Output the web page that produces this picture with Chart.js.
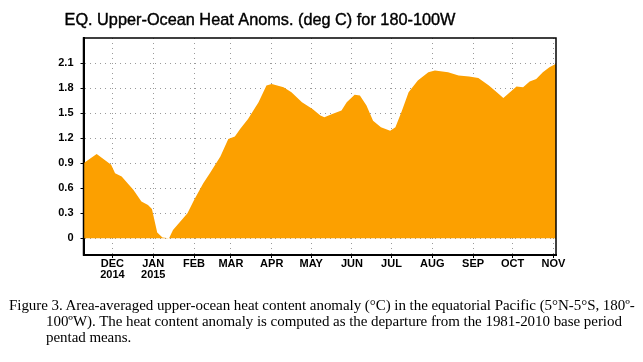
<!DOCTYPE html>
<html>
<head>
<meta charset="utf-8">
<script src="https://cdn.jsdelivr.net/npm/chart.js@4.4.1/dist/chart.umd.min.js"></script>
<style>
  html, body { margin: 0; padding: 0; background: #fff; }
  #wrap { position: relative; width: 643px; height: 362px; }
  #caption {
    position: absolute; left: 9px; top: 297px;
    font-family: "Liberation Serif", "Times New Roman", serif;
    font-size: 15px; line-height: 16px; color: #000;
    white-space: nowrap; letter-spacing: -0.05px;
  }
  #caption .ind { padding-left: 37px; }
</style>
</head>
<body>
<div id="wrap">
  <canvas id="heatChart" width="643" height="362"></canvas>
  <div id="caption">
    Figure 3. Area-averaged upper-ocean heat content anomaly (°C) in the equatorial Pacific (5°N-5°S, 180º-<br>
    <span class="ind">100ºW). The heat content anomaly is computed as the departure from the 1981-2010 base period</span><br>
    <span class="ind">pentad means.</span>
  </div>
</div>
<script>
// values (approximate pentad-ish samples)
const dates = [
  '2014-11-09', '2014-11-19', '2014-11-30', '2014-12-03', '2014-12-08', '2014-12-17',
  '2014-12-23', '2014-12-28', '2014-12-31', '2015-01-04', '2015-01-08', '2015-01-13',
  '2015-01-16', '2015-01-27', '2015-02-01', '2015-02-08', '2015-02-13', '2015-02-21',
  '2015-02-27', '2015-03-04', '2015-03-08', '2015-03-14', '2015-03-22', '2015-03-28',
  '2015-04-01', '2015-04-10', '2015-04-16', '2015-04-24', '2015-05-02', '2015-05-08',
  '2015-05-11', '2015-05-17', '2015-05-24', '2015-05-28', '2015-06-03', '2015-06-07',
  '2015-06-12', '2015-06-17', '2015-06-23', '2015-06-30', '2015-07-04', '2015-07-09',
  '2015-07-14', '2015-07-21', '2015-07-29', '2015-08-03', '2015-08-13', '2015-08-21',
  '2015-08-29', '2015-09-05', '2015-09-13', '2015-09-19', '2015-09-24', '2015-09-29',
  '2015-10-04', '2015-10-09', '2015-10-14', '2015-10-19', '2015-10-24', '2015-10-29',
  '2015-11-03'
];
const anomaly = [
  0.90, 1.01, 0.88, 0.78, 0.74, 0.58,
  0.44, 0.40, 0.35, 0.07, 0.01, 0.00,
  0.10, 0.30, 0.46, 0.66, 0.78, 0.98,
  1.19, 1.22, 1.31, 1.43, 1.63, 1.83,
  1.85, 1.81, 1.75, 1.63, 1.55, 1.47,
  1.45, 1.49, 1.53, 1.63, 1.72, 1.71,
  1.59, 1.41, 1.33, 1.29, 1.33, 1.53,
  1.75, 1.89, 1.99, 2.01, 1.99, 1.95,
  1.94, 1.92, 1.83, 1.75, 1.68, 1.75,
  1.82, 1.81, 1.88, 1.91, 1.99, 2.05,
  2.09
];

const monthStarts = ['2014-12-01', '2015-01-01', '2015-02-01', '2015-03-01', '2015-04-01', '2015-05-01',
  '2015-06-01', '2015-07-01', '2015-08-01', '2015-09-01', '2015-10-01', '2015-11-01'];
const monthLabels = [['DEC', '2014'], ['JAN', '2015'], 'FEB', 'MAR', 'APR', 'MAY',
  'JUN', 'JUL', 'AUG', 'SEP', 'OCT', 'NOV'];
const yTicks = [0, 0.3, 0.6, 0.9, 1.2, 1.5, 1.8, 2.1];

const titleText = 'EQ. Upper-Ocean Heat Anoms. (deg C) for 180-100W';

// days since 1 Dec 2014
const base = Date.UTC(2014, 11, 1);
function dayOf(s) {
  const [y, m, d] = s.split('-').map(Number);
  return (Date.UTC(y, m - 1, d) - base) / 86400000;
}

const points = dates.map((d, i) => ({ x: dayOf(d), y: anomaly[i] }));
const monthDays = monthStarts.map(dayOf);

const tickFont = { family: '"Liberation Sans", Arial, sans-serif', size: 11, weight: 'bold', lineHeight: 1.05 };

const frameAndTitle = {
  id: 'frameAndTitle',
  afterDraw(chart) {
    const { ctx, chartArea: a } = chart;
    ctx.save();
    ctx.strokeStyle = '#000';
    ctx.lineWidth = 1.5;
    ctx.strokeRect(a.left, a.top, a.right - a.left, a.bottom - a.top);
    // title (GrADS style, slightly heavy)
    ctx.fillStyle = '#000';
    ctx.strokeStyle = '#000';
    ctx.lineWidth = 0.4;
    ctx.font = '16.3px "Liberation Sans", Arial, sans-serif';
    ctx.textAlign = 'center';
    ctx.textBaseline = 'middle';
    ctx.fillText(titleText, 260, 21);
    ctx.strokeText(titleText, 260, 21);
    ctx.restore();
  }
};

const canvas = document.getElementById('heatChart');
new Chart(canvas, {
  type: 'line',
  data: {
    datasets: [{
      data: points,
      fill: 'origin',
      backgroundColor: '#fca000',
      borderColor: '#fca000',
      borderWidth: 0,
      pointRadius: 0,
      tension: 0
    }]
  },
  options: {
    animation: false,
    responsive: false,
    events: [],
    layout: { padding: { left: 0, right: 87, top: 38, bottom: 77 } },
    plugins: {
      legend: { display: false },
      tooltip: { enabled: false },
      title: { display: false }
    },
    scales: {
      x: {
        type: 'linear',
        z: 1,
        min: dayOf(dates[0]),
        max: dayOf(dates[dates.length - 1]),
        afterBuildTicks(scale) {
          scale.ticks = monthDays.map(v => ({ value: v }));
        },
        afterFit(scale) { scale.height = 30; },
        ticks: {
          autoSkip: false,
          maxRotation: 0,
          padding: 0,
          color: '#000',
          font: tickFont,
          callback: (v) => {
            const i = monthDays.indexOf(v);
            return i >= 0 ? monthLabels[i] : '';
          }
        },
        grid: { color: '#9a9a9a', lineWidth: 1, tickLength: 3, tickColor: '#000', drawOnChartArea: true },
        border: { display: true, color: '#000', width: 2, dash: [1, 4] }
      },
      y: {
        z: 1,
        min: -0.2,
        max: 2.4,
        afterBuildTicks(scale) {
          scale.ticks = yTicks.map(v => ({ value: v }));
        },
        afterFit(scale) { scale.width = 83.5; },
        ticks: {
          padding: 7,
          color: '#000',
          font: tickFont,
          callback: (v) => (v === 0 ? '0' : v.toFixed(1))
        },
        grid: { color: '#9a9a9a', lineWidth: 1, tickLength: 3, tickColor: '#000' },
        border: { display: true, color: '#000', width: 2, dash: [1, 4] }
      }
    }
  },
  plugins: [frameAndTitle]
});
</script>
</body>
</html>
